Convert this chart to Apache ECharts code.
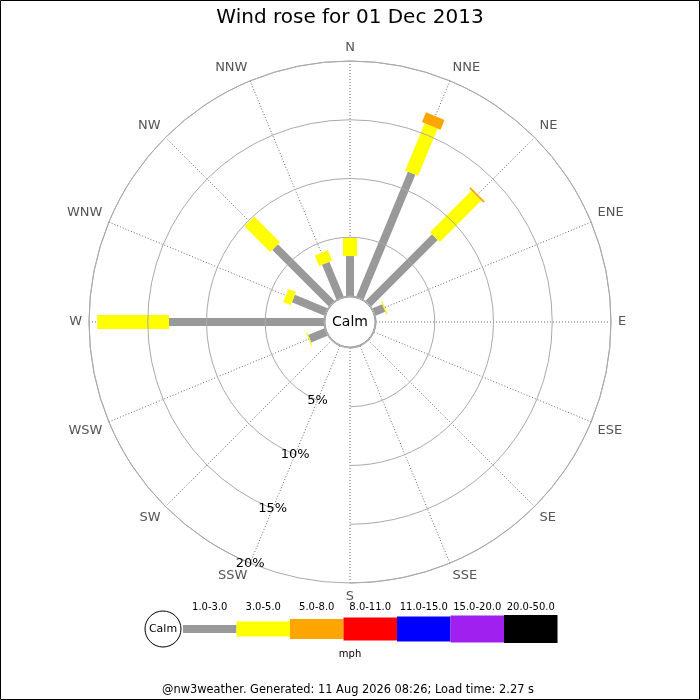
<!DOCTYPE html>
<html>
<head>
<meta charset="utf-8">
<script src="https://cdn.jsdelivr.net/npm/echarts@6/dist/echarts.min.js"></script>
<style>
  html, body { margin: 0; padding: 0; background: #fff; }
  #main { width: 700px; height: 700px; }
</style>
</head>
<body>
<div id="main"></div>
<script>
// compass points, clockwise from north
var directions = ['N', 'NNE', 'NE', 'ENE', 'E', 'ESE', 'SE', 'SSE', 'S', 'SSW', 'SW', 'WSW', 'W', 'WNW', 'NW', 'NNW'];

// % of time in each speed band per direction (mph)
var band1to3 = [3.4, 11.5, 8.0, 0.9, 0, 0, 0, 0, 0, 0, 0, 1.5, 13.2, 3.0, 6.8, 3.2];
var band3to5 = [1.55, 4.35, 5.0, 0.1, 0, 0, 0, 0, 0, 0, 0, 0.1, 6.1, 0.7, 3.1, 0.95];
var band5to8 = [0, 0.9, 0.15, 0, 0, 0, 0, 0, 0, 0, 0, 0, 0, 0, 0, 0];

var bandLabels = ['1.0-3.0', '3.0-5.0', '5.0-8.0', '8.0-11.0', '11.0-15.0', '15.0-20.0', '20.0-50.0'];
var radiusTicks = [0, 5, 10, 15, 20];

// styling per band
var bandColors = ['#999999', '#ffff00', '#ffa500', '#ff0000', '#0000ff', '#a020f0', '#000000'];
var bandWidths = [8, 14, 20, 23, 25, 27, 28];
var legendHeights = [8, 15, 20, 23, 25, 27, 28];

// radius axis is drawn along the first category, so start the axis at SSW
var axisDirs = directions.slice(9).concat(directions.slice(0, 9));

var bands = [band1to3, band3to5, band5to8];
var barData = [];
directions.forEach(function (d, i) {
  var start = 0;
  bands.forEach(function (vals, b) {
    var v = vals[i];
    if (v > 0) {
      barData.push([start, axisDirs.indexOf(d), start + v, b]);
    }
    start += v;
  });
});

var chart = echarts.init(document.getElementById('main'));

var cx = 350, cy = 322;

// legend pieces
var legend = [];
var segW = 53.5, legX = 183, legY = 629;
bandLabels.forEach(function (lab, b) {
  var h = legendHeights[b];
  legend.push({
    type: 'rect',
    shape: { x: legX + b * segW, y: legY - h / 2, width: segW, height: h },
    style: { fill: bandColors[b] }
  });
  legend.push({
    type: 'text',
    x: legX + b * segW + segW / 2, y: 607,
    style: { text: lab, fill: '#000', font: '10px "DejaVu Sans"', textAlign: 'center', textVerticalAlign: 'middle' }
  });
});
legend.push({
  type: 'circle',
  shape: { cx: 163, cy: legY, r: 18 },
  style: { fill: '#fff', stroke: '#000', lineWidth: 1 }
});
legend.push({
  type: 'text', x: 163, y: legY,
  style: { text: 'Calm', fill: '#000', font: '11px "DejaVu Sans"', textAlign: 'center', textVerticalAlign: 'middle' }
});
legend.push({
  type: 'text', x: 350, y: 654,
  style: { text: 'mph', fill: '#000', font: '10px "DejaVu Sans"', textAlign: 'center', textVerticalAlign: 'middle' }
});

var option = {
  backgroundColor: '#fff',
  animation: false,
  textStyle: { fontFamily: 'DejaVu Sans' },
  title: {
    text: 'Wind rose for 01 Dec 2013',
    left: 'center',
    top: 3,
    textStyle: { fontSize: 20, fontWeight: 'normal', color: '#000', fontFamily: 'DejaVu Sans' }
  },
  polar: {
    center: [cx, cy],
    radius: [26, 261]
  },
  angleAxis: {
    type: 'category',
    data: axisDirs,
    startAngle: 247.5,
    clockwise: true,
    boundaryGap: false,
    axisLine: { show: true, lineStyle: { color: '#aaa', width: 1 } },
    axisTick: { show: false },
    axisLabel: { color: '#555', fontSize: 13, margin: 7, fontFamily: 'DejaVu Sans' },
    splitLine: { show: true, lineStyle: { color: '#444', width: 0.8, type: [1, 2] } }
  },
  radiusAxis: {
    type: 'value',
    min: 0,
    max: 20,
    interval: 5,
    axisLine: { show: false },
    axisTick: { show: false },
    axisLabel: {
      color: '#000',
      fontSize: 13,
      margin: 0,
      align: 'center',
      verticalAlign: 'middle',
      fontFamily: 'DejaVu Sans',
      formatter: function (v) { return v > 0 ? v + '%' : ''; }
    },
    splitLine: { show: true, lineStyle: { color: '#aaa', width: 1 } },
    z: 20
  },
  series: [
    {
      type: 'custom',
      coordinateSystem: 'polar',
      data: barData,
      encode: { radius: [0, 2], angle: 1 },
      renderItem: function (params, api) {
        var r0 = api.value(0), idx = api.value(1), r1 = api.value(2), band = api.value(3);
        var a = api.coord([r0, idx]);
        var b = api.coord([r1, idx]);
        var c0 = api.coord([0, idx]);
        var c1 = api.coord([radiusTicks[radiusTicks.length - 1], idx]);
        var len = Math.sqrt(Math.pow(c1[0] - c0[0], 2) + Math.pow(c1[1] - c0[1], 2));
        var ux = (c1[0] - c0[0]) / len, uy = (c1[1] - c0[1]) / len;
        var hw = bandWidths[band] / 2;
        var nx = -uy * hw, ny = ux * hw;
        return {
          type: 'polygon',
          shape: {
            points: [
              [a[0] + nx, a[1] + ny],
              [b[0] + nx, b[1] + ny],
              [b[0] - nx, b[1] - ny],
              [a[0] - nx, a[1] - ny]
            ]
          },
          style: { fill: bandColors[band] }
        };
      },
      z: 5
    }
  ],
  graphic: [
    {
      type: 'circle',
      shape: { cx: cx, cy: cy, r: 25 },
      style: { fill: '#fff', stroke: '#999', lineWidth: 1 },
      z: 50
    },
    {
      type: 'text', x: cx, y: cy, z: 51,
      style: { text: 'Calm', fill: '#000', font: '14px "DejaVu Sans"', textAlign: 'center', textVerticalAlign: 'middle' }
    },
    {
      type: 'text', x: 348, y: 690,
      style: { text: '@nw3weather. Generated: 11 Aug 2026 08:26; Load time: 2.27 s', fill: '#000', font: '11.4px "DejaVu Sans"', textAlign: 'center', textVerticalAlign: 'middle' }
    },
    {
      type: 'rect',
      shape: { x: 0.5, y: 0.5, width: 699, height: 699 },
      style: { fill: 'none', stroke: '#000', lineWidth: 1 },
      z: 60
    }
  ].concat(legend)
};

chart.setOption(option);
</script>
</body>
</html>
